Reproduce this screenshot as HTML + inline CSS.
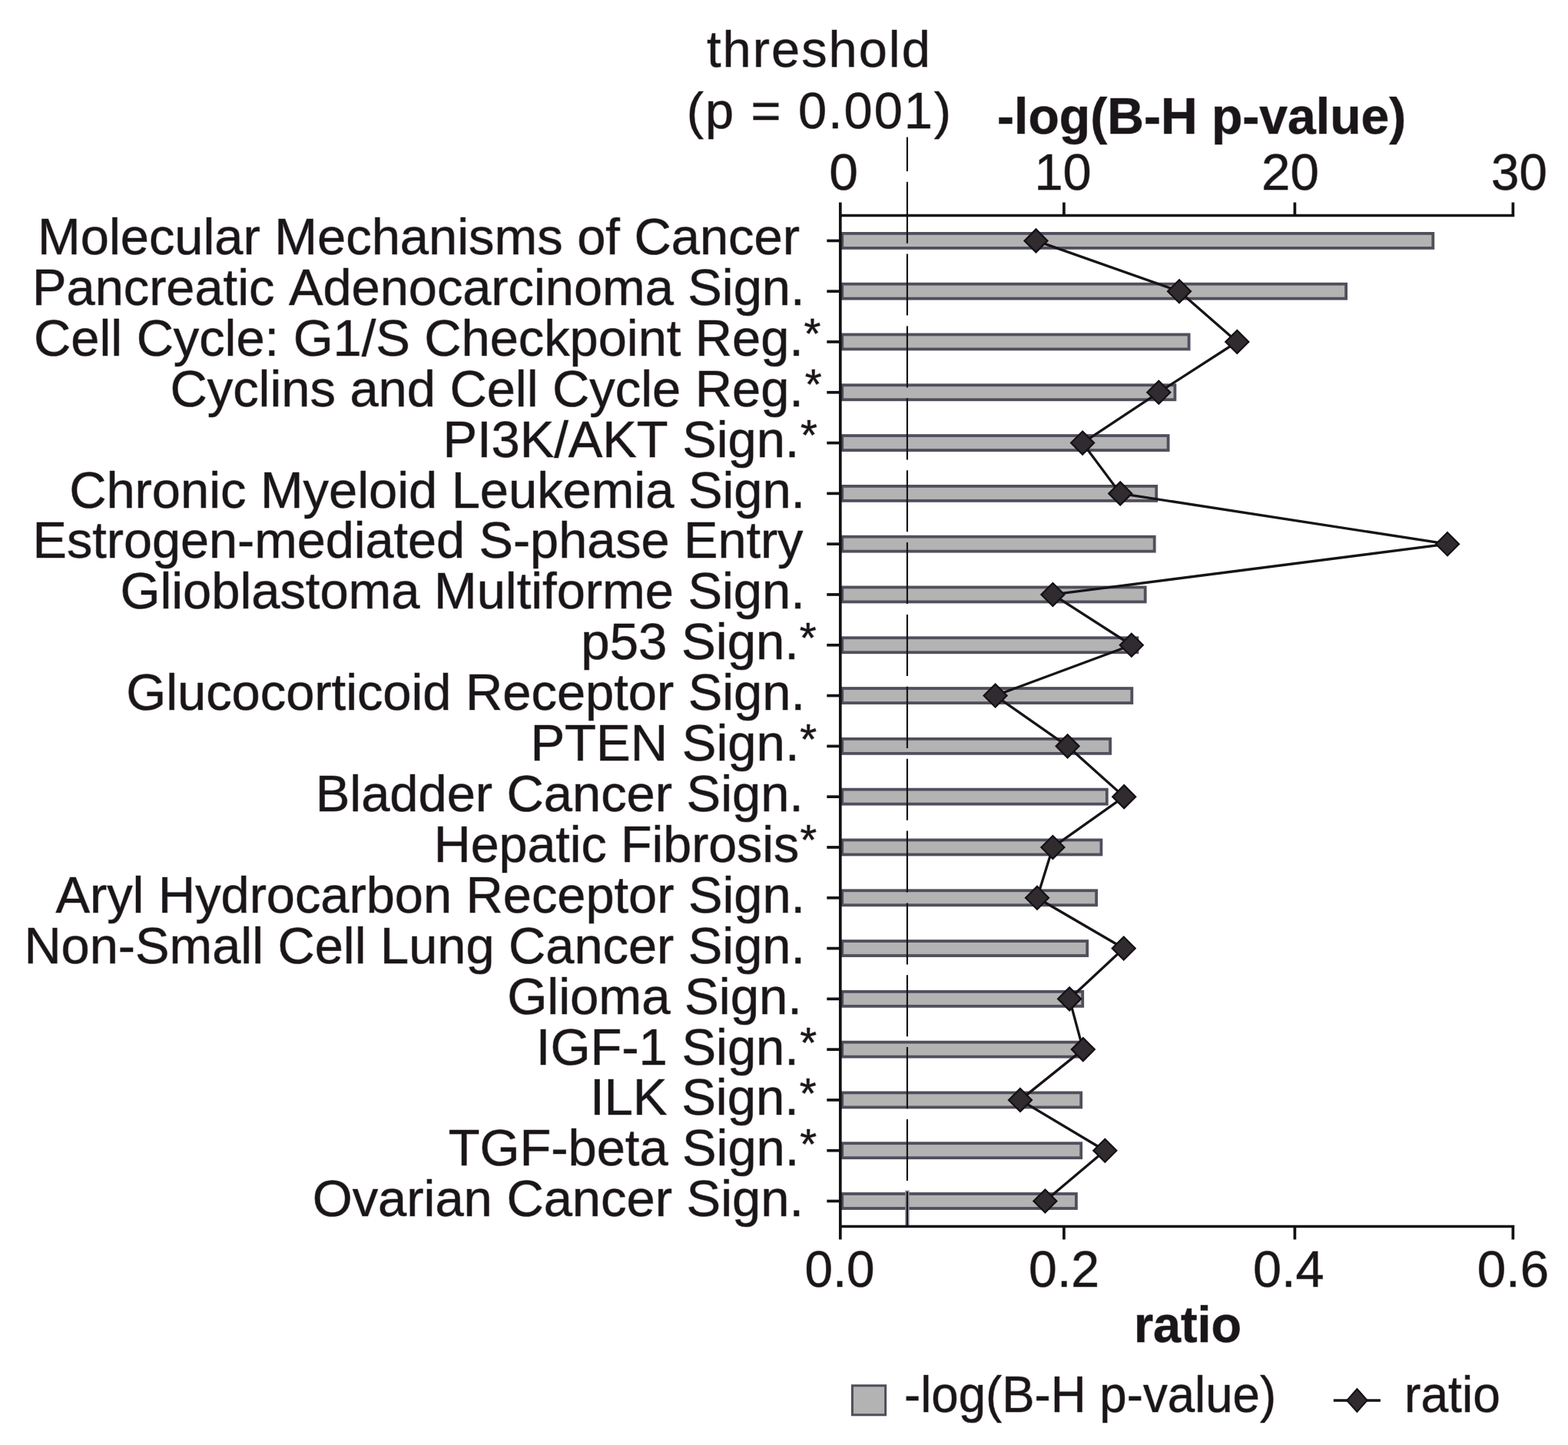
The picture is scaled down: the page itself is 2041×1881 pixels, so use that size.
<!DOCTYPE html>
<html lang="en">
<head>
<meta charset="utf-8">
<title>Pathway enrichment chart</title>
<style>
html,body{margin:0;padding:0;background:#fff;}
body{width:2041px;height:1881px;overflow:hidden;}
svg{display:block;}
svg text{font-family:"Liberation Sans",Arial,Helvetica,sans-serif;fill:#1a1519;stroke:#1a1519;stroke-opacity:0.5;stroke-width:1.1px;stroke-linejoin:round;paint-order:stroke fill;font-kerning:none;white-space:pre;}
</style>
</head>
<body>
<svg width="2041" height="1881" viewBox="0 0 2041 1881">
<rect width="2041" height="1881" fill="#ffffff"/>
<g>
<g fill="#b3b3b3" stroke="#504f5c" stroke-width="3.8">
<rect x="1096.2" y="303.90" width="769.1" height="19"/>
<rect x="1096.2" y="369.69" width="655.9" height="19"/>
<rect x="1096.2" y="435.49" width="451.4" height="19"/>
<rect x="1096.2" y="501.28" width="433.2" height="19"/>
<rect x="1096.2" y="567.08" width="424.4" height="19"/>
<rect x="1096.2" y="632.88" width="409.0" height="19"/>
<rect x="1096.2" y="698.67" width="406.5" height="19"/>
<rect x="1096.2" y="764.46" width="394.5" height="19"/>
<rect x="1096.2" y="830.26" width="384.2" height="19"/>
<rect x="1096.2" y="896.05" width="377.1" height="19"/>
<rect x="1096.2" y="961.85" width="348.9" height="19"/>
<rect x="1096.2" y="1027.64" width="344.6" height="19"/>
<rect x="1096.2" y="1093.44" width="337.2" height="19"/>
<rect x="1096.2" y="1159.24" width="330.9" height="19"/>
<rect x="1096.2" y="1225.03" width="319.0" height="19"/>
<rect x="1096.2" y="1290.83" width="313.0" height="19"/>
<rect x="1096.2" y="1356.62" width="309.9" height="19"/>
<rect x="1096.2" y="1422.41" width="311.0" height="19"/>
<rect x="1096.2" y="1488.21" width="311.0" height="19"/>
<rect x="1096.2" y="1554.01" width="304.7" height="19"/>
</g>
<path d="M1180.9 1549.6V1596.5" stroke="#8c8a94" stroke-width="5.4" fill="none"/>
<path d="M1180.9 178.4V222.9 M1180.9 236.7V316.8 M1180.9 330.6V410.6 M1180.9 424.4V504.5 M1180.9 518.3V598.4 M1180.9 612.2V692.2 M1180.9 706.0V786.1 M1180.9 799.9V880.0 M1180.9 893.8V973.9 M1180.9 987.7V1067.7 M1180.9 1081.5V1161.6 M1180.9 1175.4V1255.5 M1180.9 1269.3V1349.3 M1180.9 1363.1V1443.2 M1180.9 1457.0V1537.1 M1180.9 1550.9V1596.5" stroke="#1a1519" stroke-width="2.2" fill="none"/>
<g stroke="#141014" stroke-width="3.7" fill="none">
<path d="M1093.8 263.5V1613.5"/>
<path d="M1092.1 280.5H1971.1"/>
<path d="M1092.1 1596.5H1971.1"/>
<path d="M1384.9 263.5V282.0"/>
<path d="M1384.9 1595.0V1613.5"/>
<path d="M1685.4 263.5V282.0"/>
<path d="M1685.4 1595.0V1613.5"/>
<path d="M1969.4 263.5V282.0"/>
<path d="M1969.4 1595.0V1613.5"/>
<path d="M1076.3 313.40H1093.8"/>
<path d="M1076.3 379.19H1093.8"/>
<path d="M1076.3 444.99H1093.8"/>
<path d="M1076.3 510.78H1093.8"/>
<path d="M1076.3 576.58H1093.8"/>
<path d="M1076.3 642.38H1093.8"/>
<path d="M1076.3 708.17H1093.8"/>
<path d="M1076.3 773.96H1093.8"/>
<path d="M1076.3 839.76H1093.8"/>
<path d="M1076.3 905.55H1093.8"/>
<path d="M1076.3 971.35H1093.8"/>
<path d="M1076.3 1037.14H1093.8"/>
<path d="M1076.3 1102.94H1093.8"/>
<path d="M1076.3 1168.74H1093.8"/>
<path d="M1076.3 1234.53H1093.8"/>
<path d="M1076.3 1300.33H1093.8"/>
<path d="M1076.3 1366.12H1093.8"/>
<path d="M1076.3 1431.91H1093.8"/>
<path d="M1076.3 1497.71H1093.8"/>
<path d="M1076.3 1563.51H1093.8"/>
</g>
<polyline points="1348.5,313.40 1535.0,379.19 1610.3,444.99 1508.3,510.78 1409.1,576.58 1458.2,642.38 1884.1,708.17 1370.4,773.96 1472.8,839.76 1295.6,905.55 1389.6,971.35 1463.2,1037.14 1370.4,1102.94 1350.0,1168.74 1462.7,1234.53 1392.1,1300.33 1409.8,1366.12 1328.0,1431.91 1438.3,1497.71 1360.4,1563.51" fill="none" stroke="#181318" stroke-width="3.3" stroke-linejoin="round"/>
<g fill="#2f2b2f" stroke="#151015" stroke-width="2.2">
<path d="M1348.5 298.40L1363.5 313.40L1348.5 328.40L1333.5 313.40Z"/>
<path d="M1535.0 364.19L1550.0 379.19L1535.0 394.19L1520.0 379.19Z"/>
<path d="M1610.3 429.99L1625.3 444.99L1610.3 459.99L1595.3 444.99Z"/>
<path d="M1508.3 495.78L1523.3 510.78L1508.3 525.78L1493.3 510.78Z"/>
<path d="M1409.1 561.58L1424.1 576.58L1409.1 591.58L1394.1 576.58Z"/>
<path d="M1458.2 627.38L1473.2 642.38L1458.2 657.38L1443.2 642.38Z"/>
<path d="M1884.1 693.17L1899.1 708.17L1884.1 723.17L1869.1 708.17Z"/>
<path d="M1370.4 758.96L1385.4 773.96L1370.4 788.96L1355.4 773.96Z"/>
<path d="M1472.8 824.76L1487.8 839.76L1472.8 854.76L1457.8 839.76Z"/>
<path d="M1295.6 890.55L1310.6 905.55L1295.6 920.55L1280.6 905.55Z"/>
<path d="M1389.6 956.35L1404.6 971.35L1389.6 986.35L1374.6 971.35Z"/>
<path d="M1463.2 1022.14L1478.2 1037.14L1463.2 1052.14L1448.2 1037.14Z"/>
<path d="M1370.4 1087.94L1385.4 1102.94L1370.4 1117.94L1355.4 1102.94Z"/>
<path d="M1350.0 1153.74L1365.0 1168.74L1350.0 1183.74L1335.0 1168.74Z"/>
<path d="M1462.7 1219.53L1477.7 1234.53L1462.7 1249.53L1447.7 1234.53Z"/>
<path d="M1392.1 1285.33L1407.1 1300.33L1392.1 1315.33L1377.1 1300.33Z"/>
<path d="M1409.8 1351.12L1424.8 1366.12L1409.8 1381.12L1394.8 1366.12Z"/>
<path d="M1328.0 1416.91L1343.0 1431.91L1328.0 1446.91L1313.0 1431.91Z"/>
<path d="M1438.3 1482.71L1453.3 1497.71L1438.3 1512.71L1423.3 1497.71Z"/>
<path d="M1360.4 1548.51L1375.4 1563.51L1360.4 1578.51L1345.4 1563.51Z"/>
</g>
<text transform="translate(49.02 331.00) scale(1.0024 1)" font-size="66.7">Molecular Mechanisms of Cancer</text>
<text transform="translate(42.02 396.91) scale(1.0007 1)" font-size="66.7">Pancreatic Adenocarcinoma Sign.</text>
<text transform="translate(44.11 462.82) scale(1.0011 1)" font-size="66.7">Cell Cycle: G1/S Checkpoint Reg.<tspan x="1001.29" dy="-9.5" font-size="56">*</tspan></text>
<text transform="translate(221.51 528.73) scale(1.0020 1)" font-size="66.7">Cyclins and Cell Cycle Reg.<tspan x="824.67" dy="-9.5" font-size="56">*</tspan></text>
<text transform="translate(576.42 594.64) scale(1.0014 1)" font-size="66.7">PI3K/AKT Sign.<tspan x="464.97" dy="-9.5" font-size="56">*</tspan></text>
<text transform="translate(90.21 660.55) scale(1.0015 1)" font-size="66.7">Chronic Myeloid Leukemia Sign.</text>
<text transform="translate(42.54 726.46) scale(0.9985 1)" font-size="66.7">Estrogen-mediated S-phase Entry</text>
<text transform="translate(156.44 792.37) scale(1.0022 1)" font-size="66.7">Glioblastoma Multiforme Sign.</text>
<text transform="translate(756.37 858.28) scale(1.0064 1)" font-size="66.7">p53 Sign.<tspan x="282.56" dy="-9.5" font-size="56">*</tspan></text>
<text transform="translate(164.24 924.19) scale(1.0017 1)" font-size="66.7">Glucocorticoid Receptor Sign.</text>
<text transform="translate(690.40 990.10) scale(1.0048 1)" font-size="66.7">PTEN Sign.<tspan x="349.21" dy="-9.5" font-size="56">*</tspan></text>
<text transform="translate(410.72 1056.01) scale(1.0022 1)" font-size="66.7">Bladder Cancer Sign.</text>
<text transform="translate(564.76 1121.92) scale(0.9943 1)" font-size="66.7">Hepatic Fibrosis<tspan x="479.48" dy="-9.5" font-size="56">*</tspan></text>
<text transform="translate(72.47 1187.83) scale(1.0006 1)" font-size="66.7">Aryl Hydrocarbon Receptor Sign.</text>
<text transform="translate(31.42 1253.74) scale(1.0009 1)" font-size="66.7">Non-Small Cell Lung Cancer Sign.</text>
<text transform="translate(660.13 1319.65) scale(1.0051 1)" font-size="66.7">Glioma Sign.</text>
<text transform="translate(697.82 1385.56) scale(1.0034 1)" font-size="66.7">IGF-1 Sign.<tspan x="342.32" dy="-9.5" font-size="56">*</tspan></text>
<text transform="translate(767.91 1451.47) scale(1.0053 1)" font-size="66.7">ILK Sign.<tspan x="271.42" dy="-9.5" font-size="56">*</tspan></text>
<text transform="translate(583.80 1517.38) scale(1.0012 1)" font-size="66.7">TGF-beta Sign.<tspan x="457.02" dy="-9.5" font-size="56">*</tspan></text>
<text transform="translate(406.63 1583.29) scale(1.0029 1)" font-size="66.7">Ovarian Cancer Sign.</text>
<text transform="translate(1079.25 247.40) scale(1.0162 1)" font-size="66.7">0</text>
<text x="1346.41" y="247.40" font-size="66.7">10</text>
<text transform="translate(1642.01 247.40) scale(1.0098 1)" font-size="66.7">20</text>
<text transform="translate(1941.01 247.40) scale(0.9820 1)" font-size="66.7">30</text>
<text transform="translate(1047.44 1675.00) scale(0.9827 1)" font-size="66.7">0.0</text>
<text transform="translate(1339.11 1675.00) scale(0.9924 1)" font-size="66.7">0.2</text>
<text transform="translate(1630.90 1675.00) scale(0.9982 1)" font-size="66.7">0.4</text>
<text transform="translate(1922.67 1675.00) scale(1.0093 1)" font-size="66.7">0.6</text>
<text x="919.99" y="87.30" font-size="66.7" style="letter-spacing:2.065px">threshold</text>
<text x="893.76" y="167.10" font-size="66.7" style="letter-spacing:1.993px">(p = 0.001)</text>
<text transform="translate(1298.12 173.90) scale(0.9907 1)" font-size="66.7" font-weight="bold">-log(B-H p-value)</text>
<text transform="translate(1475.94 1747.30) scale(0.9699 1)" font-size="66.7" font-weight="bold">ratio</text>
<rect x="1109.4" y="1803.7" width="43.2" height="38.1" fill="#b3b3b3" stroke="#4f4e5b" stroke-width="3"/>
<text transform="translate(1176.97 1837.60) scale(0.9535 1)" font-size="66.7">-log(B-H p-value)</text>
<path d="M1735.8 1822.9H1796.9" stroke="#181318" stroke-width="3.5" fill="none"/>
<path d="M1766.4 1808L1779.6 1822.9L1766.4 1837.8L1753.2 1822.9Z" fill="#2f2b2f" stroke="#151015" stroke-width="2"/>
<text transform="translate(1828.04 1837.60) scale(0.9623 1)" font-size="66.7">ratio</text>
</g>
</svg>
</body>
</html>
